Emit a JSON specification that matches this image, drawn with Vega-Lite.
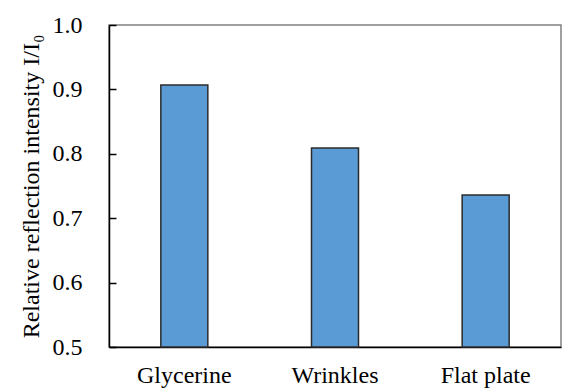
{
  "$schema": "https://vega.github.io/schema/vega-lite/v6.json",
  "width": 452,
  "height": 322,
  "autosize": "none",
  "padding": {"left": 109, "top": 25, "right": 17, "bottom": 45},
  "background": "white",
  "data": {
    "values": [
      {"surface": "Glycerine", "intensity": 0.907},
      {"surface": "Wrinkles", "intensity": 0.809},
      {"surface": "Flat plate", "intensity": 0.736}
    ]
  },
  "mark": {"type": "bar", "fill": "#5B9BD5", "stroke": "#2b2b2b", "strokeWidth": 1.5, "width": 47},
  "encoding": {
    "x": {
      "field": "surface", "type": "nominal", "sort": null,
      "axis": {
        "title": null, "labelAngle": 0, "ticks": false,
        "domainColor": "#000", "domainWidth": 1.5,
        "labelPadding": 16, "labelFont": "Times New Roman, Liberation Serif, DejaVu Serif, serif", "labelFontSize": 24, "labelColor": "#000"
      }
    },
    "y": {
      "field": "intensity", "type": "quantitative",
      "scale": {"domain": [0.5, 1.0], "zero": false, "nice": false},
      "axis": {
        "title": "Relative reflection intensity I/I₀",
        "values": [0.5, 0.6, 0.7, 0.8, 0.9, 1.0], "format": ".1f",
        "grid": false, "tickSize": -7, "tickColor": "#000", "tickWidth": 1.5,
        "domainColor": "#000", "domainWidth": 1.5,
        "labelPadding": 34, "labelFont": "Times New Roman, Liberation Serif, DejaVu Serif, serif", "labelFontSize": 24, "labelColor": "#000",
        "titleFont": "Times New Roman, Liberation Serif, DejaVu Serif, serif", "titleFontSize": 24, "titleFontWeight": "normal", "titleColor": "#000",
        "titlePadding": 9
      }
    },
    "y2": {"datum": 0.5}
  },
  "config": {"view": {"stroke": "#808080", "strokeWidth": 1.5}}
}
